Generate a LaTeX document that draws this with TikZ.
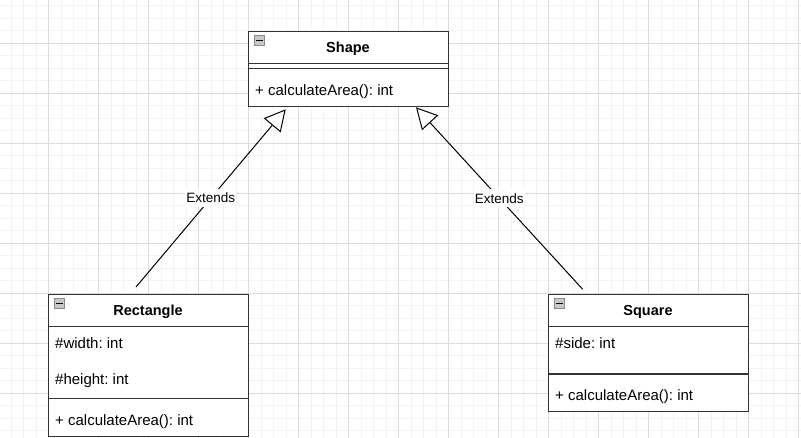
\documentclass[tikz,border=0pt]{standalone}
\usepackage{fontspec}
\setmainfont{Liberation Sans}
\usetikzlibrary{arrows.meta}
\definecolor{minorgrid}{HTML}{F3F3F3}
\definecolor{majorgrid}{HTML}{DCDCDC}
\definecolor{boxline}{HTML}{333333}
\definecolor{iconfill}{HTML}{C8C8C8}
\definecolor{icondraw}{HTML}{8A8A8A}
\frenchspacing
\begin{document}
\begin{tikzpicture}[x=1pt,y=-1pt,
  classbox/.style={draw=boxline, line width=1.2pt, fill=white, inner sep=0pt, anchor=north west, minimum width=200pt},
  sep/.style={draw=boxline, line width=1.2pt},
  member/.style={anchor=base west, inner sep=0pt, font=\fontsize{15}{18}\selectfont},
  ctitle/.style={anchor=base, inner sep=0pt, font=\fontsize{14.5}{17}\selectfont\bfseries},
  extends/.style={draw=black, line width=1pt, -{Triangle[length=21pt,width=22pt,fill=white]}},
  lbl/.style={fill=white, font=\fontsize{13.5}{16}\selectfont, inner xsep=1pt, inner ysep=4pt},
  minusbtn/.pic={
    \draw[fill=iconfill, draw=icondraw, line width=0.8pt] (0,0) rectangle (10.5,10.5);
    \draw[black, line width=1.6pt] (2,5.25) -- (8.5,5.25);
  }
  ]
\useasboundingbox (0,0) rectangle (801,438);
\fill[white] (0,0) rectangle (801,438);
% grid
\foreach \i in {0,...,64}{\draw[minorgrid, line width=1pt] ({-1.5+12.5*\i},0) -- ({-1.5+12.5*\i},438);}
\foreach \k in {0,...,34}{\draw[minorgrid, line width=1pt] (0,{5.8+12.5*\k}) -- (801,{5.8+12.5*\k});}
\foreach \i in {0,...,16}{\draw[majorgrid, line width=1pt] ({-1.5+50*\i},0) -- ({-1.5+50*\i},438);}
\foreach \k in {0,...,8}{\draw[majorgrid, line width=1pt] (0,{43.3+50*\k}) -- (801,{43.3+50*\k});}

% Shape class
\node[classbox, minimum height=75pt] (shape) at (248,31) {};
\draw[sep] (248,63.3) -- (448,63.3);
\draw[sep] (248,68.3) -- (448,68.3);
\pic at (254.2,35.2) {minusbtn};
\node[ctitle] (shapet) at (348,52.4) {Shape};
\node[member] (shapem) at (255,95.6) {+ calculateArea(): int};

% Rectangle class
\node[classbox, minimum height=142pt] (rect) at (48,294) {};
\draw[sep] (48,326.3) -- (248,326.3);
\draw[sep] (48,398.7) -- (248,398.7);
\pic at (54.2,298.2) {minusbtn};
\node[ctitle] (rectt) at (148,315.7) {Rectangle};
\node[member] (recta) at (55,349) {\#width: int};
\node[member] (rectb) at (55,384.6) {\#height: int};
\node[member] (rectm) at (55,425.6) {+ calculateArea(): int};

% Square class
\node[classbox, minimum height=117pt] (sq) at (548,294) {};
\draw[sep] (548,326.3) -- (748,326.3);
\draw[sep] (548,374) -- (748,374);
\pic at (554.2,298.2) {minusbtn};
\node[ctitle] (sqt) at (648,315.7) {Square};
\node[member] (sqa) at (555,349) {\#side: int};
\node[member] (sqm) at (555,400.6) {+ calculateArea(): int};

% connectors
\coordinate (rtail) at (136,287);
\coordinate (rhead) at (285.7,109.3);
\coordinate (stail) at (582.7,289.3);
\coordinate (shead) at (416,107.3);
\draw[extends] (rtail) -- node[lbl] (lbl1) {Extends} (rhead);
\draw[extends] (stail) -- node[lbl] (lbl2) {Extends} (shead);
\end{tikzpicture}
\end{document}
